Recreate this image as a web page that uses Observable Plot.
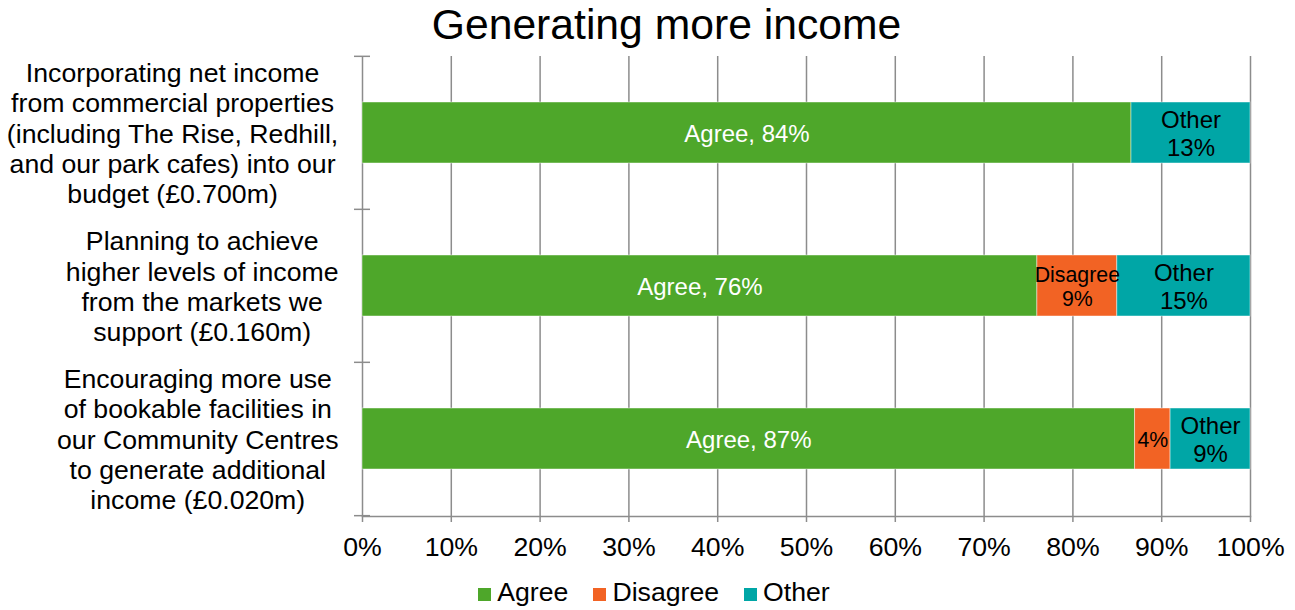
<!DOCTYPE html>
<html><head><meta charset="utf-8">
<script src="https://cdn.jsdelivr.net/npm/d3@7"></script>
<script src="https://cdn.jsdelivr.net/npm/@observablehq/plot@0.6"></script>
<style>
body{margin:0;background:#fff;font-family:"Liberation Sans",Arial,sans-serif;color:#000}
#title{height:48px;line-height:48px;font-size:42.67px;text-align:center;padding-left:38px;white-space:nowrap}
#chart svg{display:block;overflow:visible}
#legend{display:flex;justify-content:center;align-items:center;padding-left:13px;margin-top:10px;height:30px;line-height:30px;font-size:26.67px}
.item{display:flex;align-items:center;margin-right:25px;white-space:nowrap}
.item:last-child{margin-right:0}
.sw{display:inline-block;width:13px;height:13px;margin-right:6px;position:relative;top:2px}
</style></head><body>
<div id="title">Generating more income</div>
<div id="chart"></div>
<div id="legend"></div>
<script>
const categories = [
  "Incorporating net income\nfrom commercial properties\n(including The Rise, Redhill,\nand our park cafes) into our\nbudget (£0.700m)",
  "Planning to achieve\nhigher levels of income\nfrom the markets we\nsupport (£0.160m)",
  "Encouraging more use\nof bookable facilities in\nour Community Centres\nto generate additional\nincome (£0.020m)"
];
const series = ["Agree", "Disagree", "Other"];
const agree = [84, 76, 87];
const disagree = [null, 9, 4];
const other = [13, 15, 9];
const xTicks = [0, 0.1, 0.2, 0.3, 0.4, 0.5, 0.6, 0.7, 0.8, 0.9, 1];
const colors = ["#4ea72a", "#f26324", "#00a6a6"];

const W = 1295, H = 519, mT = 8, mB = 51, mL = 362, mR = 45;
const padInner = 0.6;
const step = (H - mT - mB) / categories.length;
const gray = "#8c8c8c";
const fontFam = '"Liberation Sans", Arial, sans-serif';

const data = [];
categories.forEach((c, i) => {
  [agree, disagree, other].forEach((arr, j) => {
    if (arr[i] != null) data.push({cat: c, series: series[j], value: arr[i]});
  });
});

const ctx = document.createElement("canvas").getContext("2d");
ctx.font = '26.67px "Liberation Sans"';
const maxW = s => Math.max(...s.split("\n").map(l => ctx.measureText(l).width));

const stackOpts = {x: "value", y: "cat", z: "series", offset: "normalize"};
const labelFor = d => d.series === "Agree" ? `Agree, ${d.value}%`
  : d.series === "Other" ? `Other\n${d.value}%`
  : (d.value >= 5 ? `Disagree\n${d.value}%` : `${d.value}%`);

const chart = Plot.plot({
  width: W, height: H, marginTop: mT, marginBottom: mB, marginLeft: mL, marginRight: mR,
  style: {fontFamily: fontFam, fontSize: "26.67px", color: "#000", background: "white"},
  x: {domain: [0, 1], ticks: xTicks, tickFormat: d3.format(".0%")},
  y: {domain: categories, paddingInner: padInner, paddingOuter: padInner / 2},
  color: {domain: series, range: colors},
  marks: [
    Plot.gridX(xTicks, {stroke: gray, strokeOpacity: 1, strokeWidth: 1.5}),
    Plot.frame({anchor: "bottom", stroke: gray, strokeWidth: 1.5}),
    Plot.axisX({ticks: xTicks, tickSize: 6, tickPadding: 15, stroke: gray, strokeWidth: 1.5, tickFormat: d3.format(".0%"), label: null, fontSize: 26.67}),
    Plot.axisY({tickSize: 16, dx: 8, dy: -step / 2, tickFormat: () => "", label: null, stroke: gray, strokeWidth: 1.5}),
    Plot.axisY({ticks: [categories[categories.length - 1]], tickSize: 16, dx: 8, dy: step / 2, tickFormat: () => "", label: null, stroke: gray, strokeWidth: 1.5}),
    Plot.barX(data, Plot.stackX({...stackOpts, fill: "series", stroke: "white", strokeOpacity: 0.45, strokeWidth: 1})),
    Plot.text(data, Plot.stackX({...stackOpts, text: d => d.series === "Agree" ? labelFor(d) : null, fill: "white", fontSize: 24, lineHeight: 1.17})),
    Plot.text(data, Plot.stackX({...stackOpts, text: d => d.series === "Disagree" ? labelFor(d) : null, fill: "#000", fontSize: 21.33, lineHeight: 1.17})),
    Plot.text(data, Plot.stackX({...stackOpts, text: d => d.series === "Other" ? labelFor(d) : null, fill: "#000", fontSize: 24, lineHeight: 1.17})),
    ...categories.map(c => Plot.text([c], {y: d => d, text: d => d, frameAnchor: "left", textAnchor: "middle", lineAnchor: "middle", dx: -(24 + maxW(c) / 2), fontSize: 26.67, lineHeight: 1.136, fill: "#000"}))
  ]
});
document.getElementById("chart").appendChild(chart);

const lg = document.getElementById("legend");
series.forEach((s, i) => {
  const item = document.createElement("span");
  item.className = "item";
  const sw = document.createElement("span");
  sw.className = "sw";
  sw.style.background = colors[i];
  item.appendChild(sw);
  item.appendChild(document.createTextNode(s));
  lg.appendChild(item);
});
</script>
</body></html>
